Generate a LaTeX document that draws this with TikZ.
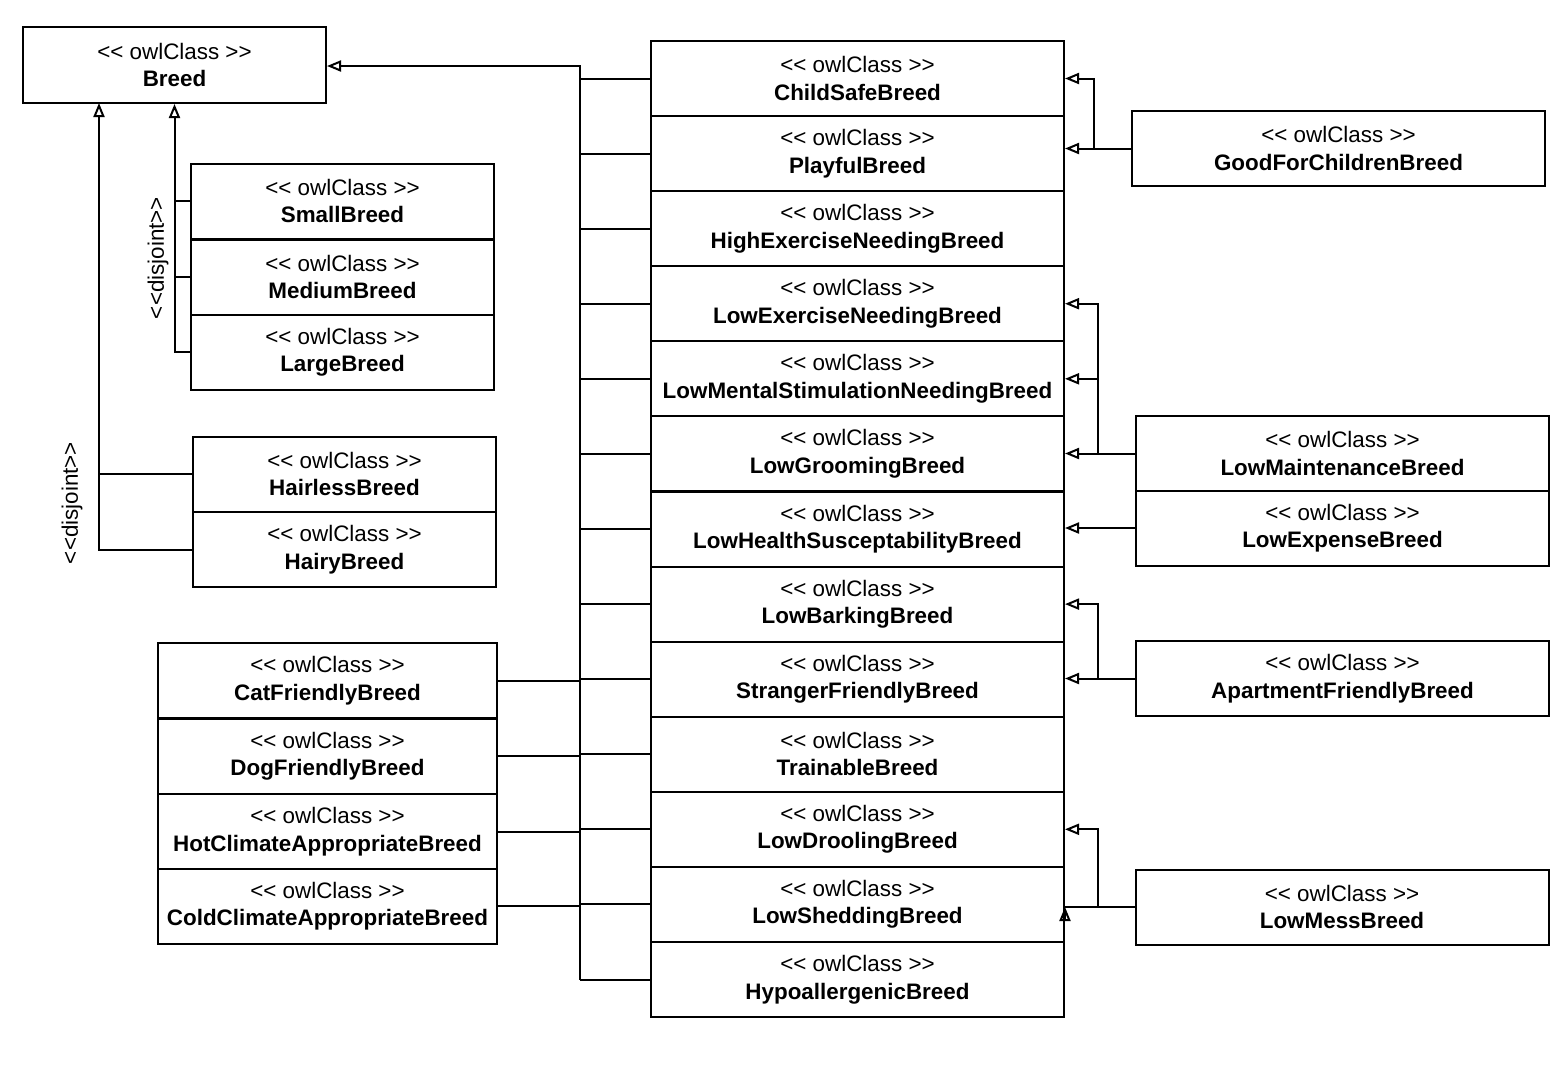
\documentclass[tikz,border=0pt]{standalone}
\usepackage{fontspec}
\setmainfont{Liberation Sans}
\usetikzlibrary{arrows.meta}
\newcommand{\owl}[1]{<\kern0pt< owlClass >\kern0pt>\\\textbf{#1}}

\tikzset{
  owlbox/.style={draw, line width=1pt, minimum width=#1, minimum height=37.5pt,
    inner sep=0pt, align=center, font=\fontsize{11.2}{13.75}\selectfont},
  isa/.style={-{Triangle[open,length=7pt,width=5.5pt]}},
  disjlbl/.style={rotate=90, inner sep=0pt, font=\fontsize{11.2}{12}\selectfont},
}

\begin{document}
\begin{tikzpicture}[x=0.5pt,y=-0.5pt,line width=1pt]
  \useasboundingbox (0,0) rectangle (1560,1073);

  % Root class
  \node[owlbox=151.5pt, minimum height=38pt] (breed) at (174.5,65) {\owl{Breed}};

  % Size classes
  \node[owlbox=151.5pt] (small)  at (342.5,201) {\owl{SmallBreed}};
  \node[owlbox=151.5pt] (medium) at (342.5,277) {\owl{MediumBreed}};
  \node[owlbox=151.5pt] (large)  at (342.5,352) {\owl{LargeBreed}};

  % Coat classes
  \node[owlbox=151.5pt] (hairless) at (344.5,474)   {\owl{HairlessBreed}};
  \node[owlbox=151.5pt] (hairy)    at (344.5,549.5) {\owl{HairyBreed}};

  % Friendly and climate classes
  \node[owlbox=169.5pt] (cat)  at (327.5,680.5) {\owl{CatFriendlyBreed}};
  \node[owlbox=169.5pt] (dog)  at (327.5,756)   {\owl{DogFriendlyBreed}};
  \node[owlbox=169.5pt] (hot)  at (327.5,831.5) {\owl{HotClimateAppropriateBreed}};
  \node[owlbox=169.5pt] (cold) at (327.5,906)   {\owl{ColdClimateAppropriateBreed}};

  % Trait classes
  \node[owlbox=206.5pt] (cs)  at (857.5,78.5)  {\owl{ChildSafeBreed}};
  \node[owlbox=206.5pt] (pl)  at (857.5,153.6) {\owl{PlayfulBreed}};
  \node[owlbox=206.5pt] (hex) at (857.5,228.7) {\owl{HighExerciseNeedingBreed}};
  \node[owlbox=206.5pt] (lex) at (857.5,303.7) {\owl{LowExerciseNeedingBreed}};
  \node[owlbox=206.5pt] (lms) at (857.5,378.8) {\owl{LowMentalStimulationNeedingBreed}};
  \node[owlbox=206.5pt] (lg)  at (857.5,453.9) {\owl{LowGroomingBreed}};
  \node[owlbox=206.5pt] (lh)  at (857.5,529.0) {\owl{LowHealthSusceptabilityBreed}};
  \node[owlbox=206.5pt] (lb)  at (857.5,604.1) {\owl{LowBarkingBreed}};
  \node[owlbox=206.5pt] (sf)  at (857.5,679.1) {\owl{StrangerFriendlyBreed}};
  \node[owlbox=206.5pt] (tr)  at (857.5,754.2) {\owl{TrainableBreed}};
  \node[owlbox=206.5pt] (ld)  at (857.5,829.3) {\owl{LowDroolingBreed}};
  \node[owlbox=206.5pt] (ls)  at (857.5,904.4) {\owl{LowSheddingBreed}};
  \node[owlbox=206.5pt] (hy)  at (857.5,979.5) {\owl{HypoallergenicBreed}};

  % Combined classes
  \node[owlbox=206.5pt] (good)  at (1338.5,148.5) {\owl{GoodForChildrenBreed}};
  \node[owlbox=206.5pt] (lmain) at (1342.5,453.5) {\owl{LowMaintenanceBreed}};
  \node[owlbox=206.5pt] (lexp)  at (1342.5,528)   {\owl{LowExpenseBreed}};
  \node[owlbox=206.5pt] (apt)   at (1342.5,678.5) {\owl{ApartmentFriendlyBreed}};
  \node[owlbox=206.5pt] (mess)  at (1342,907)     {\owl{LowMessBreed}};

  % Disjoint labels
  \node[disjlbl] (sizedisj) at (158,258) {<\kern0pt<disjoint>\kern0pt>};
  \node[disjlbl] (coatdisj) at (72,503)  {<\kern0pt<disjoint>\kern0pt>};

  % Size hierarchy
  \draw[isa] (large.west) -| (breed.south);
  \draw (small.west) -- (small.west -| breed.south);
  \draw (medium.west) -- (medium.west -| breed.south);

  % Coat hierarchy
  \coordinate (coattop) at (99,103);
  \draw[isa] (hairy.west) -| (coattop);
  \draw (hairless.west) -- (hairless.west -| coattop);

  % Trunk to root
  \coordinate (trunktop) at (580,66);
  \draw[isa] (trunktop |- hy.west) -- (trunktop) -- (trunktop -| breed.east);
  \foreach \n in {cs,pl,hex,lex,lms,lg,lh,lb,sf,tr,ld,ls,hy}
    \draw (\n.west) -- (\n.west -| trunktop);
  \foreach \n in {cat,dog,hot,cold}
    \draw (\n.east) -- (\n.east -| trunktop);

  % Right side links
  \coordinate (goodj) at (1094,148.5);
  \draw[isa] (good.west) -- (good.west -| pl.east);
  \draw[isa] (goodj) |- (cs.east);

  \coordinate (mainj) at (1098,453.5);
  \draw[isa] (lmain.west) -- (lmain.west -| lg.east);
  \draw[isa] (mainj) |- (lms.east);
  \draw[isa] (mainj) |- (lex.east);
  \draw[isa] (lexp.west) -- (lexp.west -| lh.east);

  \coordinate (aptj) at (1098,678.5);
  \draw[isa] (apt.west) -- (apt.west -| sf.east);
  \draw[isa] (aptj) |- (lb.east);

  \coordinate (messj) at (1098,907);
  \coordinate (messin) at (mess.west -| ls.east);
  \draw (mess.west) -- (messin);
  \draw[isa] ([yshift=-1pt]messin) -- (messin);
  \draw[isa] (messj) |- (ld.east);
\end{tikzpicture}
\end{document}
